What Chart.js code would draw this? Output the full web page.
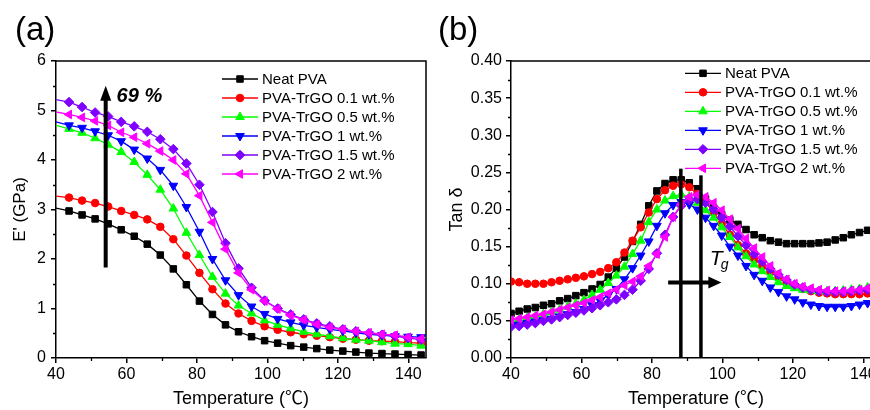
<!DOCTYPE html>
<html>
<head>
<meta charset="utf-8">
<title>Dynamic mechanical analysis of PVA-TrGO films</title>
<script src="https://cdn.jsdelivr.net/npm/chart.js@4.4.1/dist/chart.umd.min.js"></script>
<style>
  html, body { margin: 0; padding: 0; background: #fff; width: 870px; height: 410px; overflow: hidden; }
  canvas { position: absolute; top: 0; }
  #storage { left: 0; }
  #damping { left: 435px; }
</style>
</head>
<body>
<canvas id="storage" width="435" height="410"></canvas>
<canvas id="damping" width="460" height="410"></canvas>
<script>
const FONT = '"Liberation Sans", Arial, Helvetica, sans-serif';
const TITLE_FONT = '"Liberation Sans", "Noto Sans CJK SC", Arial, sans-serif';

const seriesNames = ['Neat PVA', 'PVA-TrGO 0.1 wt.%', 'PVA-TrGO 0.5 wt.%', 'PVA-TrGO 1 wt.%', 'PVA-TrGO 1.5 wt.%', 'PVA-TrGO 2 wt.%'];
const seriesColors = ['#000000', '#ff0000', '#00ff00', '#0000ff', '#8000ff', '#ff00ff'];
const markerStyles = ['rect', 'circle', 'triangle', 'triangle', 'rectRot', 'triangle'];
const markerRotations = [0, 0, 0, 180, 0, 270];
const markerRadii = [4.6, 3.8, 5, 5, 4.8, 5];

// (a) storage modulus E' (GPa) vs temperature (°C)
const tempA = [40, 43.7, 47.4, 51.1, 54.8, 58.5, 62.2, 65.9, 69.6, 73.3, 77.0, 80.7, 84.4, 88.1, 91.8,
               95.5, 99.2, 102.9, 106.6, 110.3, 114.0, 117.7, 121.4, 125.1, 128.8, 132.5, 136.2, 139.9, 143.6];
const modNeat   = [3.03, 2.97, 2.89, 2.81, 2.71, 2.59, 2.46, 2.30, 2.08, 1.80, 1.48, 1.15, 0.88, 0.67, 0.53,
                   0.43, 0.35, 0.30, 0.25, 0.22, 0.19, 0.16, 0.14, 0.12, 0.10, 0.09, 0.08, 0.07, 0.06];
const modTrGO01 = [3.27, 3.24, 3.18, 3.13, 3.06, 2.97, 2.89, 2.80, 2.65, 2.40, 2.07, 1.72, 1.39, 1.10, 0.90,
                   0.75, 0.64, 0.57, 0.52, 0.48, 0.45, 0.42, 0.39, 0.37, 0.35, 0.34, 0.33, 0.31, 0.30];
const modTrGO05 = [4.70, 4.63, 4.55, 4.44, 4.31, 4.16, 3.96, 3.70, 3.40, 3.02, 2.53, 2.08, 1.64, 1.30, 1.06,
                   0.90, 0.76, 0.67, 0.60, 0.53, 0.48, 0.44, 0.40, 0.37, 0.35, 0.32, 0.29, 0.28, 0.25];
const modTrGO1  = [4.77, 4.70, 4.65, 4.58, 4.50, 4.38, 4.21, 4.03, 3.80, 3.48, 3.05, 2.55, 2.00, 1.57, 1.27,
                   1.04, 0.89, 0.79, 0.72, 0.66, 0.62, 0.58, 0.55, 0.51, 0.48, 0.46, 0.44, 0.43, 0.42];
const modTrGO15 = [5.22, 5.17, 5.07, 4.96, 4.88, 4.77, 4.68, 4.57, 4.42, 4.22, 3.93, 3.50, 2.95, 2.32, 1.81,
                   1.42, 1.16, 1.00, 0.88, 0.78, 0.70, 0.64, 0.58, 0.54, 0.50, 0.47, 0.44, 0.40, 0.37];
const modTrGO2  = [4.97, 4.92, 4.86, 4.79, 4.70, 4.56, 4.46, 4.33, 4.18, 4.00, 3.72, 3.28, 2.74, 2.20, 1.72,
                   1.38, 1.15, 0.99, 0.86, 0.77, 0.68, 0.62, 0.58, 0.54, 0.51, 0.48, 0.46, 0.42, 0.39];

// (b) loss factor tan δ vs temperature (°C)
const tempB = [40, 42.3, 44.6, 46.9, 49.2, 51.5, 53.8, 56.1, 58.4, 60.7, 63.0, 65.3, 67.6, 69.9, 72.2, 74.5,
               76.8, 79.1, 81.4, 83.7, 86.0, 88.3, 90.6, 92.9, 95.2, 97.5, 99.8, 102.1, 104.4, 106.7, 109.0,
               111.3, 113.6, 115.9, 118.2, 120.5, 122.8, 125.1, 127.4, 129.7, 132.0, 134.3, 136.6, 138.9, 141.2, 143.5];
const tanNeat   = [0.060, 0.063, 0.066, 0.068, 0.071, 0.073, 0.077, 0.080, 0.084, 0.088, 0.093, 0.099, 0.109, 0.121, 0.136, 0.157,
                   0.180, 0.205, 0.225, 0.235, 0.240, 0.240, 0.236, 0.228, 0.214, 0.202, 0.193, 0.186, 0.180, 0.173, 0.166,
                   0.162, 0.158, 0.156, 0.154, 0.154, 0.154, 0.154, 0.155, 0.156, 0.159, 0.162, 0.166, 0.169, 0.172, 0.174];
const tanTrGO01 = [0.103, 0.102, 0.100, 0.100, 0.100, 0.102, 0.104, 0.106, 0.108, 0.110, 0.113, 0.116, 0.121, 0.129, 0.142, 0.158,
                   0.176, 0.196, 0.214, 0.226, 0.232, 0.234, 0.230, 0.221, 0.210, 0.196, 0.181, 0.166, 0.152, 0.141, 0.133,
                   0.124, 0.116, 0.108, 0.101, 0.097, 0.093, 0.090, 0.088, 0.087, 0.086, 0.086, 0.086, 0.086, 0.087, 0.088];
const tanTrGO05 = [0.050, 0.052, 0.054, 0.056, 0.059, 0.062, 0.065, 0.069, 0.073, 0.078, 0.085, 0.092, 0.101, 0.111, 0.123, 0.140,
                   0.158, 0.183, 0.200, 0.212, 0.218, 0.220, 0.217, 0.209, 0.199, 0.189, 0.176, 0.163, 0.149, 0.137, 0.126,
                   0.117, 0.109, 0.102, 0.097, 0.094, 0.092, 0.091, 0.090, 0.090, 0.090, 0.091, 0.092, 0.093, 0.095, 0.097];
const tanTrGO1  = [0.044, 0.045, 0.047, 0.049, 0.051, 0.053, 0.056, 0.059, 0.062, 0.066, 0.071, 0.077, 0.085, 0.093, 0.106, 0.121,
                   0.138, 0.157, 0.178, 0.195, 0.206, 0.210, 0.207, 0.200, 0.189, 0.178, 0.165, 0.150, 0.138, 0.124, 0.112,
                   0.104, 0.095, 0.089, 0.083, 0.079, 0.075, 0.072, 0.070, 0.069, 0.069, 0.069, 0.070, 0.072, 0.074, 0.076];
const tanTrGO15 = [0.042, 0.043, 0.045, 0.047, 0.050, 0.052, 0.055, 0.058, 0.061, 0.064, 0.067, 0.071, 0.075, 0.079, 0.085, 0.092,
                   0.104, 0.120, 0.141, 0.166, 0.190, 0.205, 0.213, 0.214, 0.209, 0.200, 0.189, 0.177, 0.164, 0.152, 0.140,
                   0.130, 0.120, 0.112, 0.105, 0.099, 0.095, 0.092, 0.090, 0.089, 0.089, 0.089, 0.090, 0.091, 0.092, 0.093];
const tanTrGO2  = [0.051, 0.053, 0.055, 0.057, 0.059, 0.062, 0.065, 0.068, 0.071, 0.074, 0.078, 0.082, 0.087, 0.092, 0.098, 0.103,
                   0.110, 0.124, 0.140, 0.163, 0.190, 0.207, 0.217, 0.220, 0.217, 0.209, 0.199, 0.187, 0.174, 0.161, 0.148,
                   0.136, 0.124, 0.114, 0.106, 0.100, 0.096, 0.094, 0.092, 0.091, 0.090, 0.090, 0.091, 0.092, 0.094, 0.096];

// minor tick positions
const minorTemp = [50, 70, 90, 110, 130];
const minorModulus = [0.5, 1.5, 2.5, 3.5, 4.5, 5.5];
const minorTan = [0.025, 0.075, 0.125, 0.175, 0.225, 0.275, 0.325, 0.375];

// annotations, in data units
const gainArrow = { temp: 54.1, from: 1.83, to: 5.5 };
const gainLabel = { text: '69 %', temp: 57.2, value: 5.17 };
const tgLines = [{ temp: 88.2, top: 0.255 }, { temp: 93.9, top: 0.246 }];
const tgArrow = { from: 84.6, to: 99.7, value: 0.1016 };
const tgLabel = { temp: 96.4, value: 0.1249 };

function marker(ctx, style, rotDeg, r, x, y, color) {
  ctx.save();
  ctx.fillStyle = color; ctx.strokeStyle = color; ctx.lineWidth = 1;
  ctx.beginPath();
  let rad = rotDeg * Math.PI / 180;
  if (style === 'circle') {
    ctx.arc(x, y, r, 0, Math.PI * 2);
  } else if (style === 'rect') {
    const s = Math.SQRT1_2 * r;
    ctx.rect(x - s, y - s, 2 * s, 2 * s);
  } else if (style === 'rectRot') {
    ctx.moveTo(x, y - r); ctx.lineTo(x + r, y); ctx.lineTo(x, y + r); ctx.lineTo(x - r, y);
  } else {
    for (let k = 0; k < 3; k++) {
      const px = x + Math.sin(rad) * r, py = y - Math.cos(rad) * r;
      if (k === 0) ctx.moveTo(px, py); else ctx.lineTo(px, py);
      rad += 2 * Math.PI / 3;
    }
  }
  ctx.closePath(); ctx.fill(); ctx.stroke();
  ctx.restore();
}

function drawLegend(ctx, x0, y0, step) {
  ctx.save();
  ctx.font = '15px ' + FONT;
  ctx.textBaseline = 'middle'; ctx.textAlign = 'left';
  seriesNames.forEach((name, i) => {
    const y = y0 + i * step;
    ctx.strokeStyle = seriesColors[i]; ctx.lineWidth = 1.3;
    ctx.beginPath(); ctx.moveTo(x0, y); ctx.lineTo(x0 + 36, y); ctx.stroke();
    marker(ctx, markerStyles[i], markerRotations[i], markerRadii[i], x0 + 18, y, seriesColors[i]);
    ctx.fillStyle = '#000';
    ctx.fillText(name, x0 + 40, y + 0.5);
  });
  ctx.restore();
}

function drawFrameAndMinor(chart, minorX, minorY) {
  const { ctx, chartArea: a, scales: { x, y } } = chart;
  ctx.save();
  ctx.strokeStyle = '#000'; ctx.lineWidth = 1.5;
  ctx.beginPath();
  ctx.moveTo(a.left, a.top); ctx.lineTo(a.right, a.top); ctx.lineTo(a.right, a.bottom);
  ctx.stroke();
  ctx.lineWidth = 1.3;
  ctx.beginPath();
  minorX.forEach(v => { const px = Math.round(x.getPixelForValue(v)) + 0.5; ctx.moveTo(px, a.bottom); ctx.lineTo(px, a.bottom + 3); });
  minorY.forEach(v => { const py = Math.round(y.getPixelForValue(v)) + 0.5; ctx.moveTo(a.left, py); ctx.lineTo(a.left - 3, py); });
  ctx.stroke();
  ctx.restore();
}

function panelLabel(ctx, text, x) {
  ctx.save();
  ctx.font = '33px ' + FONT; ctx.fillStyle = '#000';
  ctx.textBaseline = 'alphabetic'; ctx.textAlign = 'left';
  ctx.fillText(text, x, 39.5);
  ctx.restore();
}

function makeDatasets(temps, lists, skipFirstMarker) {
  return lists.map((vals, i) => ({
    label: seriesNames[i],
    data: temps.map((t, j) => ({ x: t, y: vals[j] })),
    borderColor: seriesColors[i],
    backgroundColor: seriesColors[i],
    pointBackgroundColor: seriesColors[i],
    pointBorderColor: seriesColors[i],
    borderWidth: 1.3,
    pointBorderWidth: 1,
    pointStyle: markerStyles[i],
    pointRotation: markerRotations[i],
    pointRadius: skipFirstMarker ? (c => (c.dataIndex === 0 ? 0 : markerRadii[i])) : markerRadii[i],
    pointHoverRadius: markerRadii[i],
    tension: 0,
    order: lists.length - i
  }));
}

function axisX(plotHeightBelow) {
  return {
    type: 'linear', min: 40, max: 145,
    afterFit: s => { s.height = plotHeightBelow; },
    ticks: { stepSize: 20, includeBounds: false, autoSkip: false, maxRotation: 0, padding: 2,
             color: '#000', font: { family: FONT, size: 16 } },
    grid: { drawOnChartArea: false, drawTicks: true, color: '#000', lineWidth: 1.5, tickLength: 5 },
    border: { display: true, color: '#000', width: 1.5 },
    title: { display: true, text: 'Temperature (℃)', color: '#000', padding: { top: 0, bottom: 0 },
             font: { family: TITLE_FONT, size: 18 } }
  };
}

// ---- (a) storage modulus ----
const decorA = {
  id: 'decorA',
  afterDraw(chart) {
    const { ctx, scales: { x, y } } = chart;
    drawFrameAndMinor(chart, minorTemp, minorModulus);
    // enhancement arrow
    const ax = x.getPixelForValue(gainArrow.temp);
    const y0 = y.getPixelForValue(gainArrow.from);
    const tip = y.getPixelForValue(gainArrow.to);
    ctx.save();
    ctx.strokeStyle = '#000'; ctx.fillStyle = '#000'; ctx.lineWidth = 4;
    ctx.beginPath(); ctx.moveTo(ax, y0); ctx.lineTo(ax, tip + 12); ctx.stroke();
    ctx.beginPath(); ctx.moveTo(ax, tip); ctx.lineTo(ax + 5.5, tip + 15); ctx.lineTo(ax - 5.5, tip + 15); ctx.closePath(); ctx.fill();
    ctx.font = 'italic bold 20px ' + FONT;
    ctx.textBaseline = 'alphabetic';
    ctx.fillText(gainLabel.text, x.getPixelForValue(gainLabel.temp), y.getPixelForValue(gainLabel.value));
    ctx.restore();
    drawLegend(ctx, 222, 79, 19);
    panelLabel(ctx, '(a)', 15);
  }
};

new Chart(document.getElementById('storage'), {
  type: 'line',
  data: { datasets: makeDatasets(tempA, [modNeat, modTrGO01, modTrGO05, modTrGO1, modTrGO15, modTrGO2], true) },
  options: {
    responsive: false, animation: false, devicePixelRatio: 1,
    layout: { padding: { top: 61, right: 9, left: 0, bottom: 0 } },
    plugins: { legend: { display: false }, tooltip: { enabled: false } },
    scales: {
      x: axisX(52),
      y: {
        min: 0, max: 6,
        afterFit: s => { s.width = 56; },
        ticks: { stepSize: 1, padding: 5, color: '#000', font: { family: FONT, size: 16 } },
        grid: { drawOnChartArea: false, drawTicks: true, color: '#000', lineWidth: 1.5, tickLength: 5 },
        border: { display: true, color: '#000', width: 1.5 },
        title: { display: true, text: "E' (GPa)", color: '#000', padding: { top: 10, bottom: 0 },
                 font: { family: FONT, size: 17 } }
      }
    }
  },
  plugins: [decorA]
});

// ---- (b) tan δ ----
const decorB = {
  id: 'decorB',
  afterDraw(chart) {
    const { ctx, scales: { x, y } } = chart;
    drawFrameAndMinor(chart, minorTemp, minorTan);
    ctx.save();
    ctx.strokeStyle = '#000'; ctx.fillStyle = '#000';
    // glass-transition markers
    ctx.lineWidth = 3.5;
    tgLines.forEach(l => {
      const px = x.getPixelForValue(l.temp);
      ctx.beginPath(); ctx.moveTo(px, y.getPixelForValue(0)); ctx.lineTo(px, y.getPixelForValue(l.top)); ctx.stroke();
    });
    // shift arrow
    const ay = y.getPixelForValue(tgArrow.value);
    const ax0 = x.getPixelForValue(tgArrow.from), ax1 = x.getPixelForValue(tgArrow.to);
    ctx.lineWidth = 4;
    ctx.beginPath(); ctx.moveTo(ax0, ay); ctx.lineTo(ax1 - 10, ay); ctx.stroke();
    ctx.beginPath(); ctx.moveTo(ax1, ay); ctx.lineTo(ax1 - 13, ay - 6); ctx.lineTo(ax1 - 13, ay + 6); ctx.closePath(); ctx.fill();
    // Tg label
    const tx = x.getPixelForValue(tgLabel.temp), ty = y.getPixelForValue(tgLabel.value);
    ctx.textBaseline = 'alphabetic';
    ctx.font = 'italic 21px ' + FONT;
    ctx.fillText('T', tx, ty);
    ctx.font = 'italic 14px ' + FONT;
    ctx.fillText('g', tx + 11, ty + 4);
    ctx.restore();
    drawLegend(ctx, 250, 73.3, 19);
    panelLabel(ctx, '(b)', 3);
  }
};

new Chart(document.getElementById('damping'), {
  type: 'line',
  data: { datasets: makeDatasets(tempB, [tanNeat, tanTrGO01, tanTrGO05, tanTrGO1, tanTrGO15, tanTrGO2], false) },
  options: {
    responsive: false, animation: false, devicePixelRatio: 1,
    layout: { padding: { top: 61, right: 14, left: 0, bottom: 0 } },
    plugins: { legend: { display: false }, tooltip: { enabled: false } },
    scales: {
      x: axisX(52),
      y: {
        min: 0, max: 0.4,
        afterFit: s => { s.width = 76; },
        ticks: { stepSize: 0.05, padding: 4, color: '#000', font: { family: FONT, size: 16 },
                 callback: v => v.toFixed(2) },
        grid: { drawOnChartArea: false, drawTicks: true, color: '#000', lineWidth: 1.5, tickLength: 5 },
        border: { display: true, color: '#000', width: 1.5 },
        title: { display: true, text: 'Tan δ', color: '#000', padding: { top: 11, bottom: 0 },
                 font: { family: FONT, size: 18 } }
      }
    }
  },
  plugins: [decorB]
});
</script>
</body>
</html>
